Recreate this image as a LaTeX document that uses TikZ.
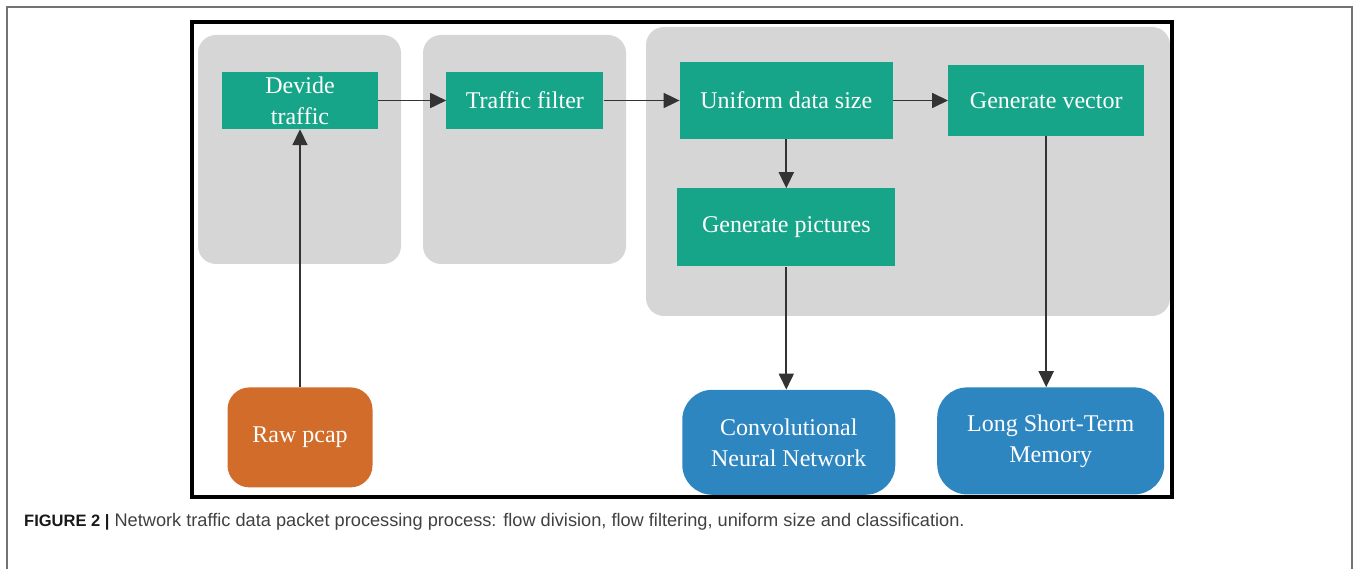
\documentclass[tikz,border=0pt]{standalone}
\usepackage{fontspec}
\setmainfont{Liberation Serif}
\setsansfont{Liberation Sans}
\usetikzlibrary{arrows.meta, positioning, backgrounds, fit}
\definecolor{procgreen}{RGB}{23,165,137}
\definecolor{panelgray}{RGB}{214,214,214}
\definecolor{rawred}{RGB}{210,108,42}
\definecolor{modelblue}{RGB}{46,134,193}
\definecolor{linegray}{RGB}{51,51,51}
\tikzset{%
	proc/.style={rectangle, fill=procgreen, text=white, inner sep=0pt, align=center,%
		font=\fontsize{24}{31}\selectfont},
	panel/.style={rectangle, fill=panelgray, rounded corners=18pt, inner sep=0pt},
	model/.style={rectangle, rounded corners=30pt, text=white, inner sep=0pt, align=center,%
		font=\fontsize{24}{31}\selectfont},
	flow/.style={-{Triangle[length=16pt,width=15pt]}, line width=1.8pt, draw=linegray},
	frame/.style={draw=black, line width=3.5pt}
}

\begin{document}
\begin{tikzpicture}[x=1pt, y=-1pt]
		\useasboundingbox (0,0) rectangle (1358,569);
		\draw [draw=black!55, line width=1.2pt] (7,575) |- (1352,7) -- (1352,575);

		\node[proc, minimum width=156pt, minimum height=57pt] (devide) at (300,100.5) {Devide\\traffic};
		\node[proc, minimum width=157pt, minimum height=57pt] (filter) [right=68pt of devide] {Traffic filter};
		\node[proc, minimum width=213pt, minimum height=77pt] (uniform) [right=76pt of filter] {Uniform data size};
		\node[proc, minimum width=196pt, minimum height=71pt] (vector) [right=55pt of uniform] {Generate vector};
		\node[proc, minimum width=218pt, minimum height=78pt] (pics) [below=49pt of uniform] {Generate pictures};
		\node[model, fill=rawred, rounded corners=22pt, minimum width=145pt, minimum height=100pt] (raw) [below=258pt of devide] {Raw pcap};
		\node[model, fill=modelblue, minimum width=213pt, minimum height=105pt, xshift=2.5pt] (cnn) [below=123pt of pics] {Convolutional\\Neural Network};
		\node[model, fill=modelblue, minimum width=227pt, minimum height=107pt, xshift=4.5pt] (lstm) [below=251pt of vector] {Long Short-Term\\Memory};

		\draw [flow] (devide) to (filter);
		\draw [flow] (filter) to (uniform);
		\draw [flow] (uniform) to (vector);
		\draw [flow] (uniform) to (pics);
		\draw [flow] (raw) to (devide);
		\draw [flow] (pics.south) to (pics.south |- cnn.north);
		\draw [flow] (vector.south) to (vector.south |- lstm.north);

		\begin{scope}[on background layer]
			\coordinate (p1a) at (198,35);
			\coordinate (p1b) at (401,264);
			\coordinate (p2a) at (423,35);
			\coordinate (p2b) at (626,264);
			\coordinate (p3a) at (646,27);
			\coordinate (p3b) at (1170,316);
			\node [panel, fit=(p1a) (p1b)] (divpanel) {};
			\node [panel, fit=(p2a) (p2b)] (filtpanel) {};
			\node [panel, fit=(p3a) (p3b)] (genpanel) {};
		\end{scope}
		\draw [frame] (192,22) rectangle (1172,497);

		\node[anchor=base west, inner sep=0pt, text=black!75, font=\sffamily\fontsize{18.2}{21}\selectfont] (caption) at (24,526)
			{{\color{black!90}\fontsize{16.5}{19}\selectfont\bfseries FIGURE 2 |} Network traffic data packet processing process: flow division, flow filtering, uniform size and classification.};
	\end{tikzpicture}
\end{document}
